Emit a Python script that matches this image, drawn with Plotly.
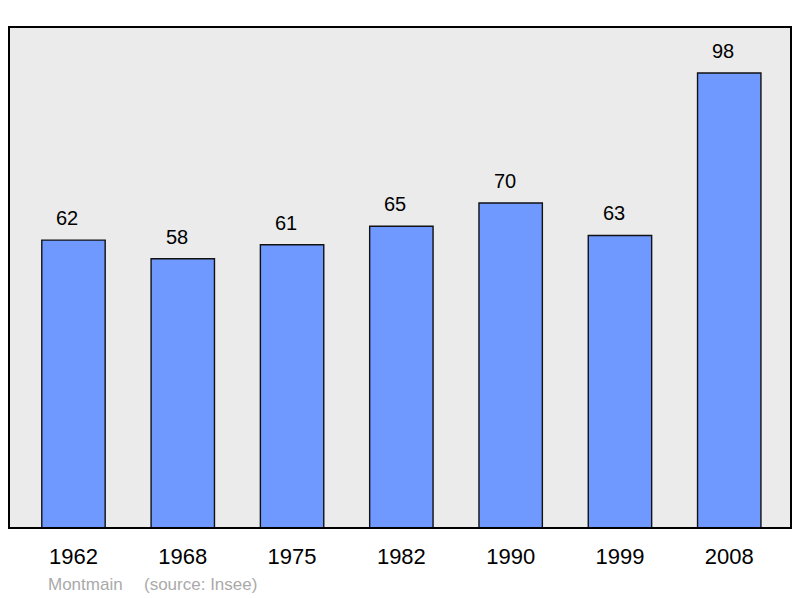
import plotly.graph_objects as go

years = ["1962", "1968", "1975", "1982", "1990", "1999", "2008"]
population = [62, 58, 61, 65, 70, 63, 98]

FONT = "Liberation Sans, Arial, sans-serif"

fig = go.Figure()
fig.add_trace(go.Bar(
    x=list(range(len(years))), y=population,
    width=0.58,
    marker=dict(color="#7099FF", line=dict(color="#111111", width=1.4)),
    hoverinfo="skip",
))

for i, v in enumerate(population):
    fig.add_annotation(x=i, y=v, text=str(v), showarrow=False,
                       yanchor="bottom", yshift=9, xshift=-6,
                       font=dict(family=FONT, size=20, color="#000"))

fig.add_annotation(xref="paper", yref="paper", x=(46 - 9) / 782, y=-0.112,
                   xanchor="left", yanchor="middle", showarrow=False,
                   text="Montmain",
                   font=dict(family=FONT, size=17, color="#AAAAAA"))
fig.add_annotation(xref="paper", yref="paper", x=(142 - 9) / 782, y=-0.112,
                   xanchor="left", yanchor="middle", showarrow=False,
                   text="(source: Insee)",
                   font=dict(family=FONT, size=17, color="#AAAAAA"))

fig.add_shape(type="rect", xref="paper", yref="paper", x0=0, y0=0, x1=1, y1=1,
              line=dict(color="#000000", width=2), layer="above")

fig.update_layout(
    width=800, height=598,
    margin=dict(l=9, r=9, t=27, b=70),
    paper_bgcolor="#FFFFFF",
    plot_bgcolor="#EBEBEB",
    showlegend=False,
    xaxis=dict(range=[-0.59, 6.565], showgrid=False, zeroline=False,
               tickmode="array", tickvals=list(range(len(years))), ticktext=years,
               ticks="outside", ticklen=9, tickcolor="rgba(0,0,0,0)",
               tickfont=dict(family=FONT, size=22, color="#000")),
    yaxis=dict(range=[0, 107.9], showgrid=False, zeroline=False, showticklabels=False, ticks=""),
)

fig.write_html("out.html", config={"displayModeBar": False},
               post_script="document.body.style.margin='0';document.body.style.overflow='hidden';")
